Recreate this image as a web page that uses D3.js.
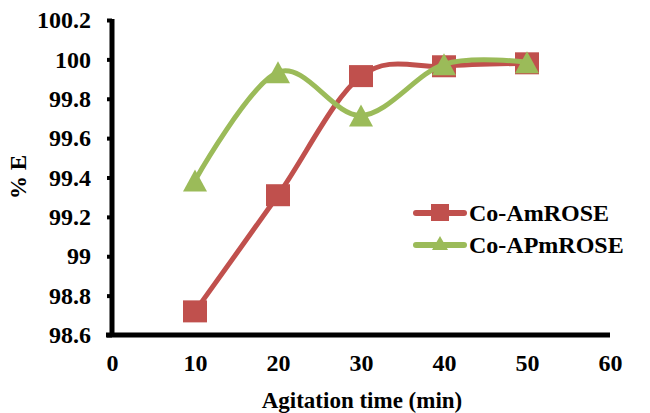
<!DOCTYPE html>
<html><head><meta charset="utf-8">
<script src="https://cdn.jsdelivr.net/npm/d3@7/dist/d3.min.js"></script>
<style>body{margin:0;background:#fff}svg{display:block}text{font-family:"Liberation Serif","Times New Roman",serif;font-weight:bold;fill:#000}</style>
</head><body><svg id="c" width="650" height="413"></svg>
<script>
const times = [10, 20, 30, 40, 50];
const coAmROSE = [98.72, 99.31, 99.915, 99.965, 99.98];
const coAPmROSE = [99.385, 99.935, 99.715, 99.975, 99.985];
const xTicks = [0, 10, 20, 30, 40, 50, 60];
const yTicks = [98.6, 98.8, 99, 99.2, 99.4, 99.6, 99.8, 100, 100.2];
const seriesNames = ["Co-AmROSE", "Co-APmROSE"];
const colors = ["#C0504D", "#9BBB59"];

const svg = d3.select("#c");
const x = d3.scaleLinear().domain([0, 60]).range([112, 610]);
const y = d3.scaleLinear().domain([98.6, 100.2]).range([335, 20]);

// y axis
const yAxis = d3.axisLeft(y).tickValues(yTicks).tickSize(5).tickPadding(16)
  .tickFormat(d => d3.format("")(+d.toFixed(1)));
const gy = svg.append("g").attr("transform", `translate(${x(0)},0)`).call(yAxis);
gy.select(".domain").attr("stroke", "#000").attr("stroke-width", 5).attr("d", `M0,${y(100.2)-1}V${y(98.6)+2}`);
gy.selectAll(".tick line").attr("stroke", "#000").attr("stroke-width", 4);
gy.selectAll(".tick text").style("font-size", "24px").style("font-family", '"Liberation Serif",serif').style("font-weight", "bold").attr("fill", "#000");

// x axis
const xAxis = d3.axisBottom(x).tickValues(xTicks).tickSize(0).tickPadding(19);
const gx = svg.append("g").attr("transform", `translate(0,${y(98.6)})`).call(xAxis);
gx.select(".domain").attr("stroke", "#000").attr("stroke-width", 5).attr("d", `M${x(0)-6},0H${x(60)}`);
gx.selectAll(".tick text").style("font-size", "24px").style("font-family", '"Liberation Serif",serif').style("font-weight", "bold").attr("fill", "#000");

// axis titles
svg.append("text").attr("x", 362).attr("y", 408).attr("text-anchor", "middle")
  .style("font-size", "23px").text("Agitation time (min)");
svg.append("text").attr("transform", "translate(26,177) rotate(-90)").attr("text-anchor", "middle")
  .style("font-size", "23px").text("% E");

const line = d3.line().x((d, i) => x(times[i])).y(d => y(d)).curve(d3.curveCardinal.tension(0));
const data = [coAmROSE, coAPmROSE];

data.forEach((vals, s) => {
  svg.append("path").attr("d", line(vals)).attr("fill", "none")
    .attr("stroke", colors[s]).attr("stroke-width", 5).attr("stroke-linecap", "round");
  const g = svg.append("g");
  vals.forEach((v, i) => {
    const cx = x(times[i]), cy = y(v);
    if (s === 0) {
      g.append("rect").attr("x", cx - 12).attr("y", cy - 11).attr("width", 24).attr("height", 22).attr("fill", colors[s]);
    } else {
      g.append("path").attr("d", `M${cx},${cy-11}L${cx+12},${cy+11}L${cx-12},${cy+11}Z`).attr("fill", colors[s]);
    }
  });
});

// legend
const legY = [213, 245];
seriesNames.forEach((name, s) => {
  const ly = legY[s];
  svg.append("line").attr("x1", 416).attr("x2", 464).attr("y1", ly).attr("y2", ly)
    .attr("stroke", colors[s]).attr("stroke-width", 6).attr("stroke-linecap", "round");
  if (s === 0) {
    svg.append("rect").attr("x", 431).attr("y", ly - 9).attr("width", 18).attr("height", 17).attr("fill", colors[s]);
  } else {
    svg.append("path").attr("d", `M440,${ly-9}L448,${ly+5}L432,${ly+5}Z`).attr("fill", colors[s]);
  }
  svg.append("text").attr("x", 469).attr("y", ly + 8).style("font-size", "24px").text(name);
});
</script></body></html>
